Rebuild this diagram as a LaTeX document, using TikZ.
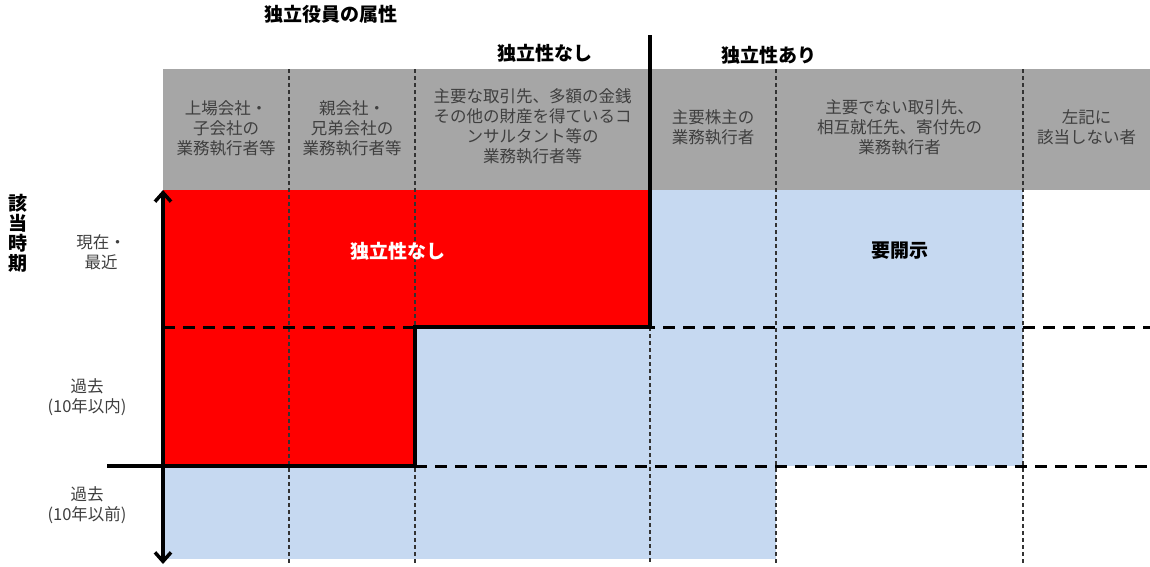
\documentclass[tikz,border=0pt]{standalone}
\usepackage{fontspec}
\setmainfont{Noto Sans CJK JP}
\usetikzlibrary{arrows.meta}
\definecolor{hdrgray}{HTML}{A6A6A6}
\definecolor{lblue}{HTML}{C6D9F1}
\definecolor{txtgray}{HTML}{3F3F3F}
\begin{document}
\begin{tikzpicture}[x=1pt,y=-1pt,
  hdr/.style={font=\fontsize{16.5}{20}\selectfont, text=txtgray, align=center, inner sep=0pt},
  boldlbl/.style={font=\fontsize{19}{20}\selectfont\bfseries, align=center, inner sep=0pt},
  thinv/.style={line width=1.3pt, dash pattern=on 4pt off 3pt, black!80},
  thickh/.style={line width=3pt, dash pattern=on 12pt off 8pt},
  border/.style={line width=4.5pt, line join=miter},
  timearrow/.style={line width=3.5pt, {Straight Barb[length=9pt,width=16pt]}-{Straight Barb[length=9pt,width=16pt]}}]
\useasboundingbox (0,0) rectangle (1150,566);
% fills
\fill[hdrgray] (163,69) rectangle (1150,190);
\fill[red] (163,190) rectangle (650,327);
\fill[red] (163,327) rectangle (415,466);
\fill[lblue] (650,190) rectangle (1023,327);
\fill[lblue] (415,327) rectangle (1023,466);
\fill[lblue] (163,466) rectangle (776,559);
% thin dashed column dividers
\foreach \cx in {289,415,776,1023} \draw[thinv] (\cx,69) -- (\cx,563);
\draw[thinv] (650,327) -- (650,563);
% thick dashed row dividers
\coordinate (r1l) at (163,327);
\coordinate (r1r) at (1150,327);
\coordinate (r2l) at (415,466);
\coordinate (r2r) at (1150,466);
\draw[thickh] (r1l) -- (r1r);
\draw[thickh] (r2l) -- (r2r);
% thick boundary
\coordinate (b0) at (107,466);
\coordinate (b1) at (415,466);
\coordinate (b2) at (415,327);
\coordinate (b3) at (650,327);
\coordinate (b4) at (650,35);
\draw[border] (b0) -- (b1) -- (b2) -- (b3) -- (b4);
% time axis arrow
\coordinate (at) at (163,190);
\coordinate (ab) at (163,564);
\draw[timearrow] (at) -- (ab);
% titles
\node[boldlbl] (title) at (331,14) {独立役員の属性};
\node[boldlbl] (nonind) at (545,53) {独立性なし};
\node[boldlbl] (ind) at (769,55) {独立性あり};
\node[boldlbl] (period) at (18,233) {該\\当\\時\\期};
% header cells
\node[hdr] (h1) at (226,128) {上場会社・\\子会社の\\業務執行者等};
\node[hdr] (h2) at (352,128) {親会社・\\兄弟会社の\\業務執行者等};
\node[hdr] (h3) at (532.5,126.5) {主要な取引先、多額の金銭\\その他の財産を得ているコ\\ンサルタント等の\\業務執行者等};
\node[hdr] (h4) at (713,127) {主要株主の\\業務執行者};
\node[hdr] (h5) at (899.5,127.5) {主要でない取引先、\\相互就任先、寄付先の\\業務執行者};
\node[hdr] (h6) at (1086.5,127) {左記に\\該当しない者};
% row labels
\node[hdr] (t1) at (101,252) {現在・\\最近};
\node[hdr] (t2) at (87,397) {過去\\(10年以内)};
\node[hdr] (t3) at (87,505) {過去\\(10年以前)};
% region labels
\node[boldlbl, text=white] (redlbl) at (398,251) {独立性なし};
\node[boldlbl] (disc) at (900,251) {要開示};
\end{tikzpicture}
\end{document}
